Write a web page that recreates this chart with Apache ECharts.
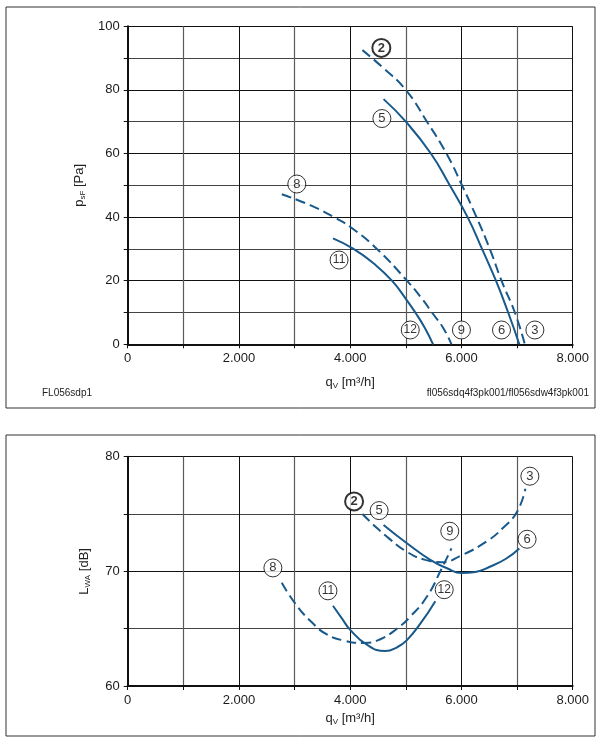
<!DOCTYPE html>
<html>
<head>
<meta charset="utf-8">
<script src="https://cdn.jsdelivr.net/npm/echarts@6/dist/echarts.min.js"></script>
<style>
  html, body { margin: 0; padding: 0; background: #fff; }
  #main { width: 606px; height: 746px; }
</style>
</head>
<body>
<div id="main"></div>
<script>
// 上图：静压 psF [Pa] - 风量 qV [m³/h]
var psf2 = [[4220, 92.5], [4600, 86.8], [5000, 80], [5380, 70], [5730, 60], [6010, 50], [6270, 40], [6510, 30], [6720, 20], [6960, 10], [7140, 0]]
var psf5 = [[4600, 77.1], [5000, 70], [5450, 60], [5790, 50], [6110, 40], [6370, 30], [6620, 20], [6840, 10], [7040, 0]]
var psf8 = [[2770, 47.2], [3300, 43.6], [3730, 39.8], [4010, 36.8], [4480, 30], [5020, 20], [5310, 13.9], [5470, 10], [5670, 5.2], [5820, 0]]
var psf11 = [[3690, 33.3], [4060, 30], [4430, 25.3], [4750, 20], [5000, 14.3], [5170, 10], [5340, 5.2], [5490, 0]]

// 下图：声功率 LWA [dB]
var lwa2 = [[4220, 75.0], [4420, 74.05], [4690, 72.9], [5020, 71.7], [5350, 71.0], [5650, 70.8], [6000, 71.4], [6450, 72.6], [6750, 73.8], [7000, 75.2], [7150, 77.2]]
var lwa5 = [[4600, 74.05], [5020, 72.45], [5440, 71.0], [5750, 70.25], [6000, 69.85], [6250, 69.95], [6510, 70.4], [6800, 71.1], [7040, 72.0]]
var lwa8 = [[2770, 69.0], [3010, 67.2], [3300, 65.6], [3580, 64.5], [3900, 63.95], [4250, 63.75], [4550, 64.1], [4840, 65.0], [5080, 66.05], [5380, 67.8], [5640, 70.2], [5820, 72.0]]
var lwa11 = [[3690, 67.0], [3850, 65.9], [4000, 64.9], [4300, 63.6], [4630, 63.05], [4850, 63.4], [5020, 64.0], [5270, 65.5], [5530, 67.4]]

// 曲线编号标注位置 [x, y, 编号]
var tagsTop = [[4560, 93.2, '2'], [4570, 71.0, '5'], [3040, 50.4, '8'], [3800, 26.5, '11'], [5080, 4.5, '12'], [6000, 4.5, '9'], [6720, 4.5, '6'], [7320, 4.5, '3']]
var tagsBottom = [[4070, 76.1, '2'], [4520, 75.3, '5'], [2610, 70.3, '8'], [3600, 68.3, '11'], [5790, 73.5, '9'], [5690, 68.4, '12'], [7180, 72.8, '6'], [7230, 78.3, '3']]

// 坐标刻度
var xTicks = { min: 0, max: 8000, interval: 2000 }
var yTopTicks = { min: 0, max: 100, interval: 20 }
var yBottomTicks = { min: 60, max: 80, interval: 10 }

var blue = '#18598c'
var font = 'Liberation Sans, Arial, sans-serif'

var myChart = echarts.init(document.getElementById('main'))

function fmtX(v) {
    if (v === 0) return '0'
    return (v / 1000).toFixed(0) + '.000'
}

var nameRich = {
    m: { fontSize: 13, color: '#222', fontFamily: font, lineHeight: 16 },
    s: { fontSize: 8, color: '#222', fontFamily: font, lineHeight: 16, padding: [7, 0, 0, 0] }
}

function xAxisOf(idx, gap) {
    return {
        type: 'value',
        gridIndex: idx,
        min: xTicks.min, max: xTicks.max, interval: xTicks.interval,
        name: '{m|q}{s|V}{m| [m³/h]}',
        nameLocation: 'middle',
        nameGap: gap,
        nameTextStyle: { rich: nameRich },
        axisLine: { show: true, onZero: false, lineStyle: { color: '#111', width: 2 } },
        axisTick: { show: true, inside: false, length: 4, lineStyle: { color: '#111' } },
        minorTick: { show: true, splitNumber: 2, length: 4, lineStyle: { color: '#111' } },
        axisLabel: { formatter: fmtX, color: '#1a1a1a', fontSize: 13, fontFamily: font, margin: 8 },
        splitLine: { show: true, lineStyle: { color: '#111', width: 1 } },
        minorSplitLine: { show: true, lineStyle: { color: '#5a5a5a', width: 1.2 } }
    }
}

function yAxisOf(idx, ticks, name, gap) {
    return {
        type: 'value',
        gridIndex: idx,
        min: ticks.min, max: ticks.max, interval: ticks.interval,
        name: name,
        nameLocation: 'middle',
        nameRotate: 90,
        nameGap: gap,
        nameTextStyle: { rich: nameRich },
        axisLine: { show: true, onZero: false, lineStyle: { color: '#111', width: 2 } },
        axisTick: { show: true, length: 4, lineStyle: { color: '#111' } },
        minorTick: { show: true, splitNumber: 2, length: 4, lineStyle: { color: '#111' } },
        axisLabel: { color: '#1a1a1a', fontSize: 13, fontFamily: font, margin: 8 },
        splitLine: { show: true, lineStyle: { color: '#111', width: 1 } },
        minorSplitLine: { show: true, lineStyle: { color: '#444', width: 1 } }
    }
}

function curve(idx, data, dashed) {
    return {
        type: 'line',
        xAxisIndex: idx, yAxisIndex: idx,
        data: data,
        smooth: 0.5,
        symbol: 'none',
        lineStyle: { color: blue, width: 2, type: dashed ? [10, 5] : 'solid' },
        z: 3
    }
}

function tags(idx, list) {
    return {
        type: 'scatter',
        xAxisIndex: idx, yAxisIndex: idx,
        data: list.map(function (t) {
            var bold = t[2] === '2'
            return {
                value: [t[0], t[1]],
                name: t[2],
                itemStyle: { color: '#fff', borderColor: '#000', borderWidth: bold ? 2 : 1 },
                label: {
                    show: true, position: 'inside', color: '#000', fontFamily: font,
                    fontWeight: bold ? 'bold' : 'normal',
                    fontSize: t[2].length > 1 ? 12 : 13
                }
            }
        }),
        symbol: 'circle',
        symbolSize: 18,
        label: {
            show: true, position: 'inside', color: '#000',
            formatter: function (p) { return p.name }
        },
        z: 5
    }
}

var option = {
    animation: false,
    backgroundColor: '#fff',
    grid: [
        { left: 127.7, right: 33.3, top: 26.3, height: 318 },
        { left: 127.7, right: 33.3, top: 456.7, height: 229.3 }
    ],
    xAxis: [xAxisOf(0, 30), xAxisOf(1, 24)],
    yAxis: [
        yAxisOf(0, yTopTicks, '{m|p}{s|sF}{m| [Pa]}', 40),
        yAxisOf(1, yBottomTicks, '{m|L}{s|WA}{m| [dB]}', 35)
    ],
    graphic: [
        { type: 'rect', shape: { x: 6, y: 7, width: 589, height: 401 }, style: { fill: 'none', stroke: '#333', lineWidth: 1 } },
        { type: 'rect', shape: { x: 6, y: 435, width: 589, height: 301 }, style: { fill: 'none', stroke: '#333', lineWidth: 1 } },
        { type: 'text', left: 42, top: 388, style: { text: 'FL056sdp1', fontSize: 10, fill: '#222', fontFamily: font } },
        { type: 'text', right: 17, top: 388, style: { text: 'fl056sdq4f3pk001/fl056sdw4f3pk001', fontSize: 10, fill: '#222', fontFamily: font } }
    ],
    series: [
        curve(0, psf2, true),
        curve(0, psf5, false),
        curve(0, psf8, true),
        curve(0, psf11, false),
        curve(1, lwa2, true),
        curve(1, lwa5, false),
        curve(1, lwa8, true),
        curve(1, lwa11, false),
        tags(0, tagsTop),
        tags(1, tagsBottom)
    ]
}

myChart.setOption(option)
window.addEventListener('resize', function () {
    myChart.resize()
})
</script>
</body>
</html>
